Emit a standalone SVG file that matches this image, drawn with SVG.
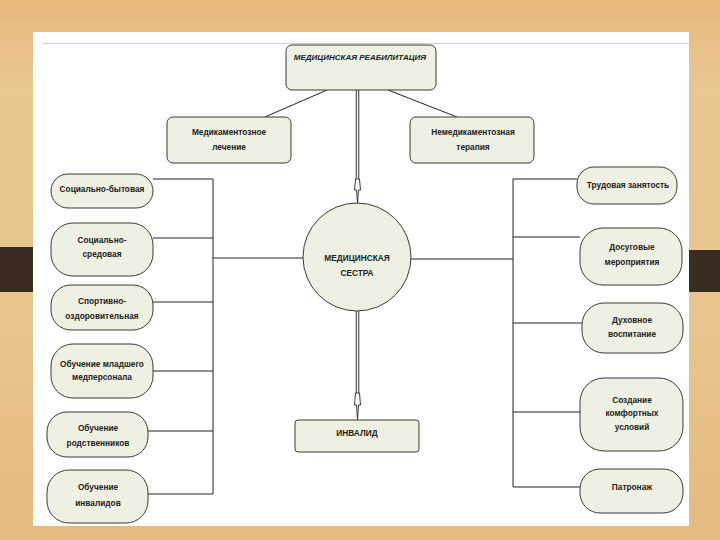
<svg xmlns="http://www.w3.org/2000/svg" width="720" height="540" viewBox="0 0 720 540">
<defs>
<linearGradient id="wood" x1="0" y1="0" x2="0" y2="1">
<stop offset="0" stop-color="#e6b97c"/>
<stop offset="0.15" stop-color="#eac691"/>
<stop offset="0.6" stop-color="#e9c58d"/>
<stop offset="1" stop-color="#e4ba7e"/>
</linearGradient>
<pattern id="grain" width="720" height="5" patternUnits="userSpaceOnUse">
<line x1="0" y1="2" x2="720" y2="2" stroke="#d9a96a" stroke-width="1" opacity="0.1"/>
</pattern>
<style>
.node{fill:#eef0e1;stroke:#3a3a3a;stroke-width:1}
.t{font-family:"Liberation Sans","DejaVu Sans",sans-serif;font-size:8.3px;font-weight:bold;fill:#222;text-anchor:middle}
.ti{font-style:italic;font-size:8px}
.c{fill:none;stroke:#222;stroke-width:1}
.dbl{fill:none;stroke:#222;stroke-width:3.5}
.dblin{fill:none;stroke:#fff;stroke-width:1.6}
.head{fill:#fff;stroke:#222;stroke-width:0.9}
</style>
</defs>
<rect width="720" height="540" fill="url(#wood)"/>
<rect width="720" height="540" fill="url(#grain)"/>
<rect x="0" y="247" width="36" height="45" fill="#3a2c20"/>
<rect x="688" y="250" width="32" height="42" fill="#3a2c20"/>
<rect x="33" y="32" width="656" height="494" fill="#ffffff"/>
<line x1="43" y1="43.5" x2="689" y2="43.5" stroke="#cfcfcf" stroke-width="1"/>

<g id="connectors">
<line class="c" x1="327" y1="90" x2="265" y2="117"/>
<line class="c" x1="388" y1="90" x2="457" y2="117"/>
<line class="dbl" x1="357.5" y1="90" x2="357.5" y2="182"/>
<line class="dblin" x1="357.5" y1="90" x2="357.5" y2="183"/>
<polygon class="head" points="355.5,179 359.5,179 360.5,190 358.5,190 357.5,203 356.5,190 354.5,190"/>
<line class="dbl" x1="357.5" y1="310" x2="357.5" y2="396"/>
<line class="dblin" x1="357.5" y1="309" x2="357.5" y2="397"/>
<polygon class="head" points="355.5,393 359.5,393 360.5,405 358.5,405 357.5,420 356.5,405 354.5,405"/>
<line class="c" x1="213" y1="179" x2="213" y2="494"/>
<line class="c" x1="153" y1="179" x2="213" y2="179"/>
<line class="c" x1="153" y1="238" x2="213" y2="238"/>
<line class="c" x1="153" y1="302" x2="213" y2="302"/>
<line class="c" x1="153" y1="371" x2="213" y2="371"/>
<line class="c" x1="148" y1="431" x2="213" y2="431"/>
<line class="c" x1="148" y1="494" x2="213" y2="494"/>
<line class="c" x1="213" y1="258" x2="303" y2="258"/>
<line class="c" x1="513" y1="179" x2="513" y2="487"/>
<line class="c" x1="513" y1="179" x2="577" y2="179"/>
<line class="c" x1="513" y1="237" x2="580" y2="237"/>
<line class="c" x1="513" y1="323" x2="582" y2="323"/>
<line class="c" x1="513" y1="412" x2="580" y2="412"/>
<line class="c" x1="513" y1="487" x2="580" y2="487"/>
<line class="c" x1="411" y1="259" x2="513" y2="259"/>
</g>

<g id="rehab">
<rect class="node" x="286" y="45" width="150" height="45" rx="6"/>
<text class="t ti" x="360" y="60">МЕДИЦИНСКАЯ РЕАБИЛИТАЦИЯ</text>
</g>
<g id="med">
<rect class="node" x="167" y="117" width="124" height="46" rx="6"/>
<text class="t" x="229" y="135">Медикаментозное</text>
<text class="t" x="229" y="150">лечение</text>
</g>
<g id="nonmed">
<rect class="node" x="410" y="117" width="124" height="46" rx="6"/>
<text class="t" x="473" y="135">Немедикаментозная</text>
<text class="t" x="473" y="150">терапия</text>
</g>
<g id="nurse">
<circle class="node" cx="357" cy="257" r="54"/>
<text class="t" x="357" y="261">МЕДИЦИНСКАЯ</text>
<text class="t" x="357" y="276">СЕСТРА</text>
</g>
<g id="invalid">
<rect class="node" x="295" y="420" width="124" height="32" rx="3"/>
<text class="t" x="357" y="436">ИНВАЛИД</text>
</g>

<g id="l1">
<rect class="node" x="51" y="174" width="102" height="34" rx="17"/>
<text class="t" x="102" y="192">Социально-бытовая</text>
</g>
<g id="l2">
<rect class="node" x="51" y="223" width="102" height="53" rx="22"/>
<text class="t" x="102" y="243">Социально-</text>
<text class="t" x="102" y="257">средовая</text>
</g>
<g id="l3">
<rect class="node" x="51" y="285" width="102" height="45" rx="20"/>
<text class="t" x="102" y="304">Спортивно-</text>
<text class="t" x="102" y="319">оздоровительная</text>
</g>
<g id="l4">
<rect class="node" x="51" y="344" width="102" height="54" rx="22"/>
<text class="t" x="102" y="367">Обучение младшего</text>
<text class="t" x="102" y="380">медперсонала</text>
</g>
<g id="l5">
<rect class="node" x="47" y="412" width="101" height="45" rx="20"/>
<text class="t" x="98" y="431">Обучение</text>
<text class="t" x="98" y="446">родственников</text>
</g>
<g id="l6">
<rect class="node" x="47" y="470" width="101" height="53" rx="22"/>
<text class="t" x="98" y="490">Обучение</text>
<text class="t" x="98" y="506">инвалидов</text>
</g>

<g id="r1">
<rect class="node" x="577" y="167" width="100" height="37" rx="17"/>
<text class="t" x="628" y="188">Трудовая занятость</text>
</g>
<g id="r2">
<rect class="node" x="580" y="228" width="102" height="57" rx="23"/>
<text class="t" x="632" y="250">Досуговые</text>
<text class="t" x="632" y="265">мероприятия</text>
</g>
<g id="r3">
<rect class="node" x="582" y="303" width="101" height="50" rx="22"/>
<text class="t" x="632" y="323">Духовное</text>
<text class="t" x="632" y="337">воспитание</text>
</g>
<g id="r4">
<rect class="node" x="580" y="378" width="103" height="73" rx="24"/>
<text class="t" x="632" y="403">Создание</text>
<text class="t" x="632" y="416">комфортных</text>
<text class="t" x="632" y="430">условий</text>
</g>
<g id="r5">
<rect class="node" x="580" y="469" width="103" height="44" rx="20"/>
<text class="t" x="632" y="490">Патронаж</text>
</g>
</svg>
